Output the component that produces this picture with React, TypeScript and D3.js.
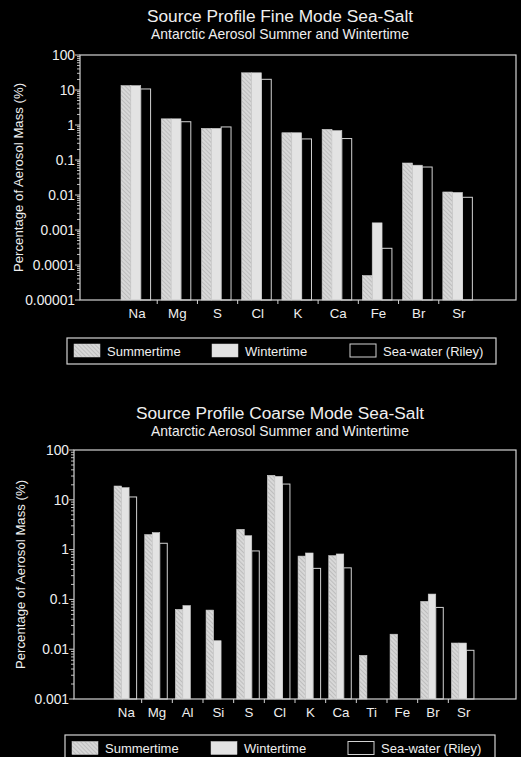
import React from "react";
import * as d3 from "d3";

// Fine mode source profile (percentage of aerosol mass)
const fineElements = ["Na", "Mg", "S", "Cl", "K", "Ca", "Fe", "Br", "Sr"];
const fineSummer = [13.3, 1.5, 0.8, 31, 0.6, 0.75, 0.00005, 0.082, 0.0122];
const fineWinter = [13.3, 1.5, 0.8, 31, 0.6, 0.69, 0.0016, 0.071, 0.0118];
const fineSeawater = [10.7, 1.24, 0.88, 20.2, 0.4, 0.41, 0.0003, 0.063, 0.0086];
const fineTicks = [100, 10, 1, 0.1, 0.01, 0.001, 0.0001, 0.00001];
const fineTickLabels = ["100", "10", "1", "0.1", "0.01", "0.001", "0.0001", "0.00001"];

// Coarse mode source profile
const coarseElements = ["Na", "Mg", "Al", "Si", "S", "Cl", "K", "Ca", "Ti", "Fe", "Br", "Sr"];
const coarseSummer = [18.9, 2.0, 0.063, 0.061, 2.55, 31, 0.74, 0.755, 0.0075, 0.02, 0.091, 0.0133];
const coarseWinter = [17.5, 2.19, 0.075, 0.0148, 1.9, 29.5, 0.855, 0.817, null, null, 0.128, 0.0133];
const coarseSeawater = [11.4, 1.34, null, null, 0.94, 20.7, 0.42, 0.43, null, null, 0.069, 0.0095];
const coarseTicks = [100, 10, 1, 0.1, 0.01, 0.001];
const coarseTickLabels = ["100", "10", "1", "0.1", "0.01", "0.001"];

const seriesNames = ["Summertime", "Wintertime", "Sea-water (Riley)"];

const FONT = "'Liberation Sans', Arial, Helvetica, sans-serif";
const TEXT = "#efefef";
const AXIS = "#d2d2d2";
const WINTER_FILL = "#e3e3e3";
const SUMMER_FILL = "#d8d8d8";
const HATCH = "#a2a2a2";

type Box = { left: number; right: number; top: number; bottom: number };

function seriesFill(i: number) {
  if (i === 0) return "url(#hatch)";
  if (i === 1) return WINTER_FILL;
  return "#000";
}

function Panel(props: {
  title: string;
  subtitle: string;
  titleY: number;
  box: Box;
  domain: [number, number];
  elements: string[];
  series: (number | null)[][];
  ticks: number[];
  tickLabels: string[];
  yLabelX: number;
  legend: { x0: number; x1: number; y0: number; y1: number; swatchX: number[] };
}) {
  const { box, domain, elements, series, ticks, tickLabels, legend } = props;
  const pad = 37;
  const x = d3
    .scaleBand<string>()
    .domain(elements)
    .range([box.left + pad, box.right - pad])
    .paddingInner(0)
    .paddingOuter(0);
  const y = d3.scaleLog().domain(domain).range([box.bottom, box.top]);
  const bw = x.bandwidth();
  const barW = bw * 0.245;
  const offset = bw * 0.1;

  // minor log ticks (2..9 within each decade)
  const minor: number[] = [];
  const lo = Math.round(Math.log10(domain[0]));
  const hi = Math.round(Math.log10(domain[1]));
  for (let e = lo; e < hi; e++) {
    for (let m = 2; m <= 9; m++) minor.push(m * Math.pow(10, e));
  }

  const midY = (box.top + box.bottom) / 2;
  const legendMid = (legend.y0 + legend.y1) / 2;

  return (
    <g>
      <text x={280} y={props.titleY} textAnchor="middle" fontSize={17.3} fill={TEXT} fontFamily={FONT}>
        {props.title}
      </text>
      <text x={280} y={props.titleY + 16.5} textAnchor="middle" fontSize={13.9} fill={TEXT} fontFamily={FONT}>
        {props.subtitle}
      </text>

      {/* bars */}
      {elements.map((el, i) =>
        series.map((vals, s) => {
          const v = vals[i];
          if (v == null) return null;
          const bx = (x(el) as number) + offset + s * barW;
          const top = y(v);
          return (
            <rect
              key={el + s}
              x={bx}
              y={top}
              width={barW}
              height={box.bottom - top}
              fill={seriesFill(s)}
              stroke={s === 2 ? AXIS : "#cfcfcf"}
              strokeWidth={s === 2 ? 1 : 0.6}
            />
          );
        })
      )}

      {/* frame */}
      <rect
        x={box.left}
        y={box.top}
        width={box.right - box.left}
        height={box.bottom - box.top}
        fill="none"
        stroke={AXIS}
        strokeWidth={1.2}
      />

      {/* y ticks */}
      {minor.map((t) => (
        <line key={"m" + t} x1={box.left - 3} x2={box.left} y1={y(t)} y2={y(t)} stroke={AXIS} strokeWidth={0.9} />
      ))}
      {ticks.map((t, i) => (
        <g key={"t" + t}>
          <line x1={box.left - 5} x2={box.left} y1={y(t)} y2={y(t)} stroke={AXIS} strokeWidth={1} />
          <text
            x={box.left - 5}
            y={y(t) + 4.8}
            textAnchor="end"
            fontSize={13.8}
            fill={TEXT}
            fontFamily={FONT}
          >
            {tickLabels[i]}
          </text>
        </g>
      ))}

      {/* x ticks between categories */}
      {elements.slice(1).map((el) => (
        <line
          key={"xt" + el}
          x1={x(el) as number}
          x2={x(el) as number}
          y1={box.bottom}
          y2={box.bottom + 4}
          stroke={AXIS}
          strokeWidth={1}
        />
      ))}
      {elements.map((el) => (
        <text
          key={"xl" + el}
          x={(x(el) as number) + bw / 2}
          y={box.bottom + 17.5}
          textAnchor="middle"
          fontSize={13.3}
          fill={TEXT}
          fontFamily={FONT}
        >
          {el}
        </text>
      ))}

      <text
        transform={`translate(${props.yLabelX},${midY}) rotate(-90)`}
        textAnchor="middle"
        dominantBaseline="central"
        fontSize={13.2}
        fill={TEXT}
        fontFamily={FONT}
      >
        Percentage of Aerosol Mass (%)
      </text>

      {/* legend */}
      <rect
        x={legend.x0}
        y={legend.y0}
        width={legend.x1 - legend.x0}
        height={legend.y1 - legend.y0}
        fill="none"
        stroke={AXIS}
        strokeWidth={1.2}
      />
      {seriesNames.map((name, s) => (
        <g key={name}>
          <rect
            x={legend.swatchX[s]}
            y={legendMid - 7}
            width={26}
            height={13}
            fill={seriesFill(s)}
            stroke={AXIS}
            strokeWidth={s === 2 ? 1 : 0.5}
          />
          <text
            x={legend.swatchX[s] + 33}
            y={legendMid + 4.5}
            fontSize={13}
            fill={TEXT}
            fontFamily={FONT}
          >
            {name}
          </text>
        </g>
      ))}
    </g>
  );
}

export default function App() {
  return (
    <div style={{ position: "absolute", left: 0, top: 0, background: "#000" }}>
      <svg width={521} height={757} style={{ display: "block" }}>
        <defs>
          <pattern id="hatch" width={3} height={3} patternUnits="userSpaceOnUse" patternTransform="rotate(-45)">
            <rect width={3} height={3} fill={SUMMER_FILL} />
            <line x1={0} y1={0} x2={0} y2={3} stroke={HATCH} strokeWidth={1} />
          </pattern>
        </defs>
        <rect width={521} height={757} fill="#000" />
        <Panel
          title="Source Profile Fine Mode Sea-Salt"
          subtitle="Antarctic Aerosol Summer and Wintertime"
          titleY={22}
          box={{ left: 80, right: 516, top: 55, bottom: 300 }}
          domain={[0.00001, 100]}
          elements={fineElements}
          series={[fineSummer, fineWinter, fineSeawater]}
          ticks={fineTicks}
          tickLabels={fineTickLabels}
          yLabelX={18}
          legend={{ x0: 67, x1: 496, y0: 338, y1: 364, swatchX: [74, 212, 350] }}
        />
        <Panel
          title="Source Profile Coarse Mode Sea-Salt"
          subtitle="Antarctic Aerosol Summer and Wintertime"
          titleY={419}
          box={{ left: 74, right: 516, top: 450, bottom: 699 }}
          domain={[0.001, 100]}
          elements={coarseElements}
          series={[coarseSummer, coarseWinter, coarseSeawater]}
          ticks={coarseTicks}
          tickLabels={coarseTickLabels}
          yLabelX={20}
          legend={{ x0: 65, x1: 495, y0: 735, y1: 762, swatchX: [72, 211, 348] }}
        />
      </svg>
    </div>
  );
}
